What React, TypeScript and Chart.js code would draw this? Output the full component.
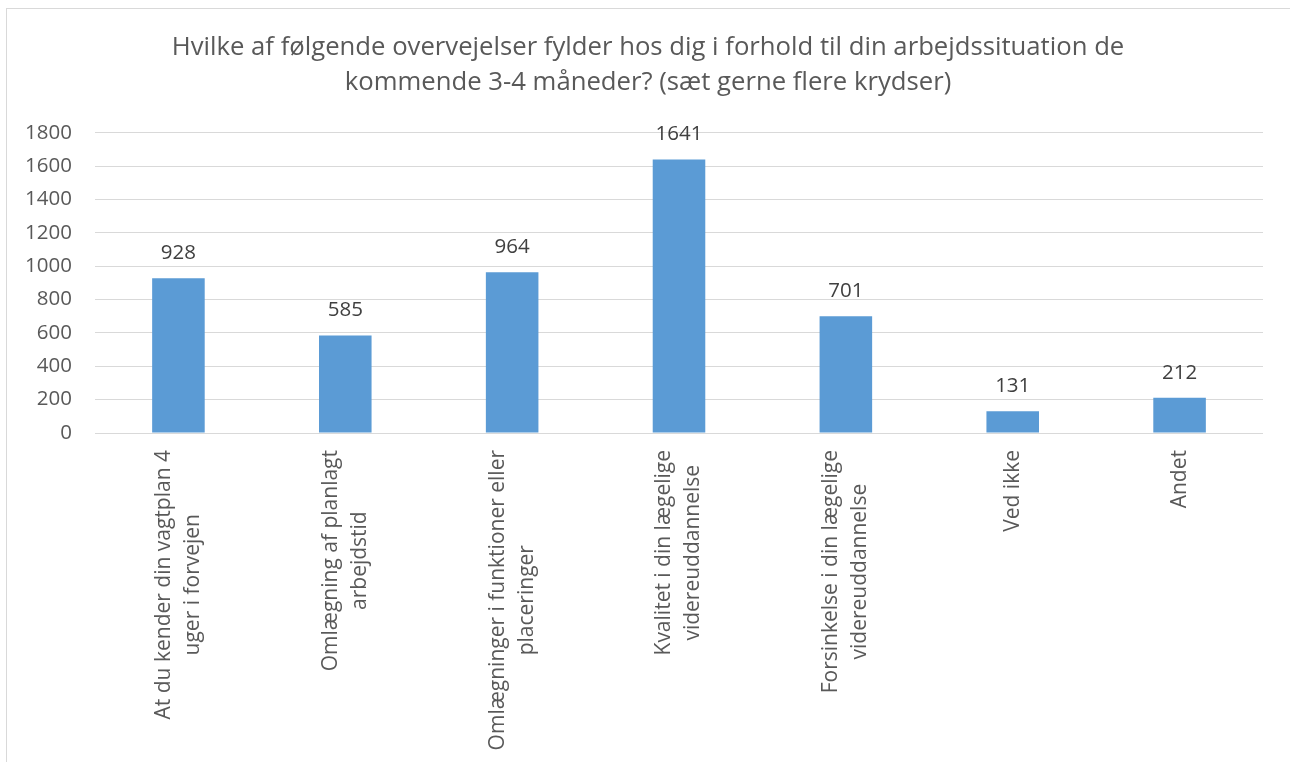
import React, { useEffect, useRef } from "react";
import { Chart, registerables } from "chart.js";

Chart.register(...registerables);

const TITLE_LINES = [
  "Hvilke af følgende overvejelser fylder hos dig i forhold til din arbejdssituation de",
  "kommende 3-4 måneder? (sæt gerne flere krydser)",
];

const CATEGORIES: string[][] = [
  ["At du kender din vagtplan 4", "uger i forvejen"],
  ["Omlægning af planlagt", "arbejdstid"],
  ["Omlægninger i funktioner eller", "placeringer"],
  ["Kvalitet i din lægelige", "videreuddannelse"],
  ["Forsinkelse i din lægelige", "videreuddannelse"],
  ["Ved ikke"],
  ["Andet"],
];

const VALUES = [928, 585, 964, 1641, 701, 131, 212];

const Y_MIN = 0;
const Y_MAX = 1800;
const Y_STEP = 200;

const FONT = "'Open Sans', 'Noto Sans', sans-serif";
const TEXT_COLOR = "#595959";
const LABEL_COLOR = "#404040";
const BAR_COLOR = "#5B9BD5";
const GRID_COLOR = "#d9d9d9";

const valueLabelPlugin = {
  id: "valueLabels",
  afterDatasetsDraw(chart: any) {
    const ctx = chart.ctx;
    const meta = chart.getDatasetMeta(0);
    ctx.save();
    ctx.font = `20.5px ${FONT}`;
    ctx.fillStyle = LABEL_COLOR;
    ctx.textAlign = "center";
    ctx.textBaseline = "alphabetic";
    meta.data.forEach((bar: any, i: number) => {
      ctx.fillText(String(chart.data.datasets[0].data[i]), bar.x, bar.y - 19);
    });
    ctx.restore();
  },
};

const xLabelPlugin = {
  id: "xLabels",
  afterDraw(chart: any) {
    const ctx = chart.ctx;
    const xScale = chart.scales.x;
    const top = chart.chartArea.bottom + 17;
    const lineH = 29;
    ctx.save();
    ctx.font = `21px ${FONT}`;
    ctx.fillStyle = TEXT_COLOR;
    ctx.textAlign = "center";
    ctx.textBaseline = "middle";
    CATEGORIES.forEach((lines, i) => {
      const x = xScale.getPixelForValue(i);
      const maxW = Math.max(...lines.map((l) => ctx.measureText(l).width));
      ctx.save();
      ctx.translate(x, top);
      ctx.rotate(-Math.PI / 2);
      lines.forEach((line, j) => {
        const off = (j - (lines.length - 1) / 2) * lineH;
        ctx.fillText(line, -maxW / 2, off);
      });
      ctx.restore();
    });
    ctx.restore();
  },
};

export default function App() {
  const canvasRef = useRef<HTMLCanvasElement | null>(null);

  useEffect(() => {
    const canvas = canvasRef.current;
    if (!canvas) return;
    const chart = new Chart(canvas, {
      type: "bar",
      data: {
        labels: CATEGORIES.map((c) => c.join(" ")),
        datasets: [
          {
            data: VALUES,
            backgroundColor: BAR_COLOR,
            borderWidth: 0,
            categoryPercentage: 1,
            barPercentage: 0.315,
          },
        ],
      },
      options: {
        responsive: false,
        animation: false,
        devicePixelRatio: 1,
        layout: { padding: { top: 0, left: 6, right: 0, bottom: 329 } },
        plugins: {
          legend: { display: false },
          tooltip: { enabled: false },
          title: {
            display: true,
            text: TITLE_LINES,
            color: TEXT_COLOR,
            font: { family: FONT, size: 25.7, weight: "normal", lineHeight: 1.36 },
            padding: { top: 30.5, bottom: 32.5 },
          },
        },
        scales: {
          x: {
            ticks: { display: false },
            grid: { display: false, drawTicks: false },
            border: { display: false },
            afterFit: (scale: any) => {
              scale.height = 0;
            },
          },
          y: {
            min: Y_MIN,
            max: Y_MAX,
            ticks: {
              stepSize: Y_STEP,
              color: TEXT_COLOR,
              padding: 23,
              font: { family: FONT, size: 20.5 },
              callback: (v: any) => String(v),
            },
            grid: { color: GRID_COLOR, lineWidth: 1, drawTicks: false },
            border: { display: false },
            afterFit: (scale: any) => {
              scale.width = 89;
            },
          },
          yRightSpacer: {
            type: "linear",
            position: "right",
            display: true,
            ticks: { display: false },
            grid: { display: false, drawTicks: false },
            border: { display: false },
            afterFit: (scale: any) => {
              scale.width = 27;
            },
          },
        },
      },
      plugins: [valueLabelPlugin, xLabelPlugin],
    });
    return () => chart.destroy();
  }, []);

  return (
    <>
      <div
        style={{
          position: "fixed",
          left: 6,
          top: 8,
          width: 1400,
          height: 900,
          border: "1px solid #d9d9d9",
          boxSizing: "border-box",
          background: "#fff",
        }}
      />
      <canvas
        ref={canvasRef}
        width={1290}
        height={762}
        style={{ position: "fixed", left: 0, top: 0, width: 1290, height: 762 }}
      />
    </>
  );
}
